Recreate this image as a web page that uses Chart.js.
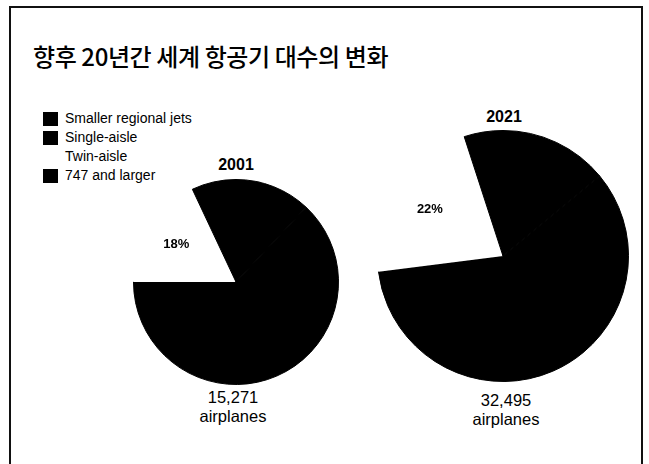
<!DOCTYPE html>
<html>
<head>
<meta charset="utf-8">
<script src="https://cdn.jsdelivr.net/npm/chart.js@4"></script>
<style>
  html, body { margin: 0; padding: 0; background: #fff; }
  body { width: 649px; height: 464px; position: relative; overflow: hidden;
         font-family: "Liberation Sans", Arial, sans-serif; color: #000; }
  .frame { position: absolute; left: 9px; top: 6px; width: 634px; height: 470px;
           border: 2px solid #111; border-bottom: none; box-sizing: border-box; }
  .title { position: absolute; left: 33px; top: 38px; font-size: 24px;
           font-family: "Noto Sans CJK KR", sans-serif; font-weight: 500; letter-spacing: -0.4px; }
  .legend { position: absolute; left: 43px; top: 110px; font-size: 14px; }
  .legend div { height: 19px; line-height: 17px; position: relative; padding-left: 22px; }
  .legend span { position: absolute; left: 0; top: 2px; width: 15px; height: 14px; }
  .year { position: absolute; font-weight: bold; font-size: 16px; transform: translateX(-50%); }
  .total { position: absolute; font-size: 16.5px; line-height: 19px; text-align: center; transform: translateX(-50%); }
  canvas { position: absolute; }
</style>
</head>
<body>
<div class="frame"></div>
<div class="title">향후 20년간 세계 항공기 대수의 변화</div>
<div class="legend" id="legend"></div>
<div class="year" style="left:236px; top:156px;">2001</div>
<div class="year" style="left:504px; top:108px;">2021</div>
<div class="total" style="left:233px; top:388px;">15,271<br>airplanes</div>
<div class="total" style="left:506px; top:391px;">32,495<br>airplanes</div>
<div style="position:absolute; left:133px; top:179px; width:206px; height:206px;"><canvas id="pie2001"></canvas></div>
<div style="position:absolute; left:377px; top:130px; width:252px; height:252px;"><canvas id="pie2021"></canvas></div>
<script>
const categories = ['Smaller regional jets', 'Single-aisle', 'Twin-aisle', '747 and larger'];
const share2001 = [12, 63, 18, 7];
const share2021 = [14, 59, 22, 5];
const years = ['2001', '2021'];
const totals = [15271, 32495];
const colors = ['#000000', '#000000', '#ffffff', '#000000'];

// legend
const legend = document.getElementById('legend');
categories.forEach((c, i) => {
  const row = document.createElement('div');
  const sw = document.createElement('span');
  sw.style.background = i === 2 ? 'transparent' : colors[i];
  row.appendChild(sw);
  row.appendChild(document.createTextNode(c));
  legend.appendChild(row);
});

// draw the twin-aisle percent inside its slice
const pctLabel = {
  id: 'pctLabel',
  afterDatasetsDraw(chart) {
    const arc = chart.getDatasetMeta(0).data[2];
    const p = arc.getProps(['x', 'y', 'startAngle', 'endAngle', 'outerRadius']);
    const mid = (p.startAngle + p.endAngle) / 2;
    const r = p.outerRadius * 0.69;
    const ctx = chart.ctx;
    ctx.save();
    ctx.font = 'bold 13px "Liberation Sans", Arial, sans-serif';
    ctx.fillStyle = '#000';
    ctx.textAlign = 'center';
    ctx.textBaseline = 'middle';
    ctx.fillText(chart.data.datasets[0].data[2] + '%', p.x + Math.cos(mid) * r, p.y + Math.sin(mid) * r);
    ctx.restore();
  }
};

function makePie(id, values) {
  new Chart(document.getElementById(id), {
    type: 'pie',
    data: {
      labels: categories,
      datasets: [{
        data: values,
        backgroundColor: colors,
        borderColor: colors,
        borderWidth: [1, 1, 0, 1]   // hide seams between the black slices
      }]
    },
    options: {
      responsive: true,
      maintainAspectRatio: false,
      animation: false,
      layout: { padding: 0 },
      plugins: { legend: { display: false }, tooltip: { enabled: false } }
    },
    plugins: [pctLabel]
  });
}

makePie('pie2001', share2001);
makePie('pie2021', share2021);
</script>
</body>
</html>
